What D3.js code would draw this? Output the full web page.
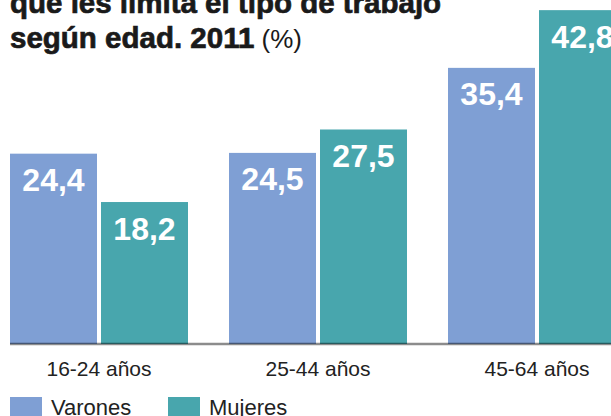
<!DOCTYPE html>
<html>
<head>
<meta charset="utf-8">
<script src="https://cdn.jsdelivr.net/npm/d3@7"></script>
<style>
  body { margin: 0; background: #fff; }
  svg { display: block; }
</style>
</head>
<body>
<div id="chart"></div>
<script>
// data
var ageGroups = ["16-24 años", "25-44 años", "45-64 años"];
var seriesNames = ["Varones", "Mujeres"];
var varones = [24.4, 24.5, 35.4];
var mujeres = [18.2, 27.5, 42.8];
var titleLines = ["que les limita el tipo de trabajo", "según edad. 2011"];
var titleUnit = "(%)";

var colors = {Varones: "#7f9fd4", Mujeres: "#48a6ad"};

var width = 611, height = 416;
var baseY = 344;

var svg = d3.select("#chart")
  .append("svg")
    .attr("width", width)
    .attr("height", height)
    .style("font-family", "'Liberation Sans', Arial, sans-serif");

// scales
var x0 = d3.scaleBand()
    .domain(ageGroups)
    .range([10, 626])
    .paddingInner(41 / 219)
    .paddingOuter(0);

var x1 = d3.scaleBand()
    .domain(seriesNames)
    .range([0, x0.bandwidth()])
    .paddingInner(4 / 91);

var y = d3.scaleLinear()
    .domain([0, 44.1])
    .range([baseY, 0]);

var rows = ageGroups.map(function(g, i) {
  return {group: g, values: [
    {key: "Varones", value: varones[i]},
    {key: "Mujeres", value: mujeres[i]}
  ]};
});

var fmt = function(v) { return d3.format(".1f")(v).replace(".", ","); };

var groups = svg.selectAll("g.group")
  .data(rows)
  .enter().append("g")
    .attr("class", "group")
    .attr("transform", function(d) { return "translate(" + x0(d.group) + ",0)"; });

groups.selectAll("rect")
  .data(function(d) { return d.values; })
  .enter().append("rect")
    .attr("x", function(d) { return x1(d.key); })
    .attr("y", function(d) { return y(d.value); })
    .attr("width", x1.bandwidth())
    .attr("height", function(d) { return baseY - y(d.value); })
    .attr("fill", function(d) { return colors[d.key]; });

groups.selectAll("text.val")
  .data(function(d) { return d.values; })
  .enter().append("text")
    .attr("class", "val")
    .attr("x", function(d) { return x1(d.key) + x1.bandwidth() / 2; })
    .attr("y", function(d) { return y(d.value) + 37.5; })
    .attr("text-anchor", "middle")
    .attr("fill", "#fff")
    .attr("font-weight", 700)
    .attr("font-size", "32px")
    .text(function(d) { return fmt(d.value); });

// baseline
svg.append("line")
    .attr("x1", 10)
    .attr("x2", width)
    .attr("y1", baseY)
    .attr("y2", baseY)
    .attr("stroke", "#000")
    .attr("stroke-opacity", 0.45)
    .attr("stroke-width", 2.5);

// x axis labels
var xAxis = svg.append("g")
    .attr("transform", "translate(0," + baseY + ")")
    .call(d3.axisBottom(x0).tickSize(0).tickPadding(0));
xAxis.select(".domain").remove();
xAxis.selectAll("text")
    .attr("y", 0)
    .attr("dy", 0)
    .attr("transform", "translate(0,32)")
    .attr("font-size", "21px")
    .attr("font-family", "'Liberation Sans', Arial, sans-serif")
    .attr("fill", "#222");

// title (a thin stroke makes it look heavier, like the original)
var title = svg.append("g")
    .attr("font-weight", 700)
    .attr("font-size", "29.5px")
    .attr("fill", "#1a1a1a")
    .attr("stroke", "#1a1a1a")
    .attr("stroke-width", 0.7);
title.append("text")
    .attr("x", 10)
    .attr("y", 13)
    .text(titleLines[0]);
var t2 = title.append("text")
    .attr("x", 10)
    .attr("y", 48)
    .text(titleLines[1]);
t2.append("tspan")
    .attr("font-weight", 400)
    .attr("font-size", "26px")
    .attr("stroke-width", 0)
    .text(" " + titleUnit);

// legend
var legend = svg.selectAll("g.legend")
  .data(seriesNames)
  .enter().append("g")
    .attr("class", "legend")
    .attr("transform", function(d, i) { return "translate(" + (10 + i * 158) + ",397)"; });
legend.append("rect")
    .attr("width", 32)
    .attr("height", 20)
    .attr("fill", function(d) { return colors[d]; });
legend.append("text")
    .attr("x", 41)
    .attr("y", 18)
    .attr("font-size", "22px")
    .attr("fill", "#222")
    .text(function(d) { return d; });
</script>
</body>
</html>
